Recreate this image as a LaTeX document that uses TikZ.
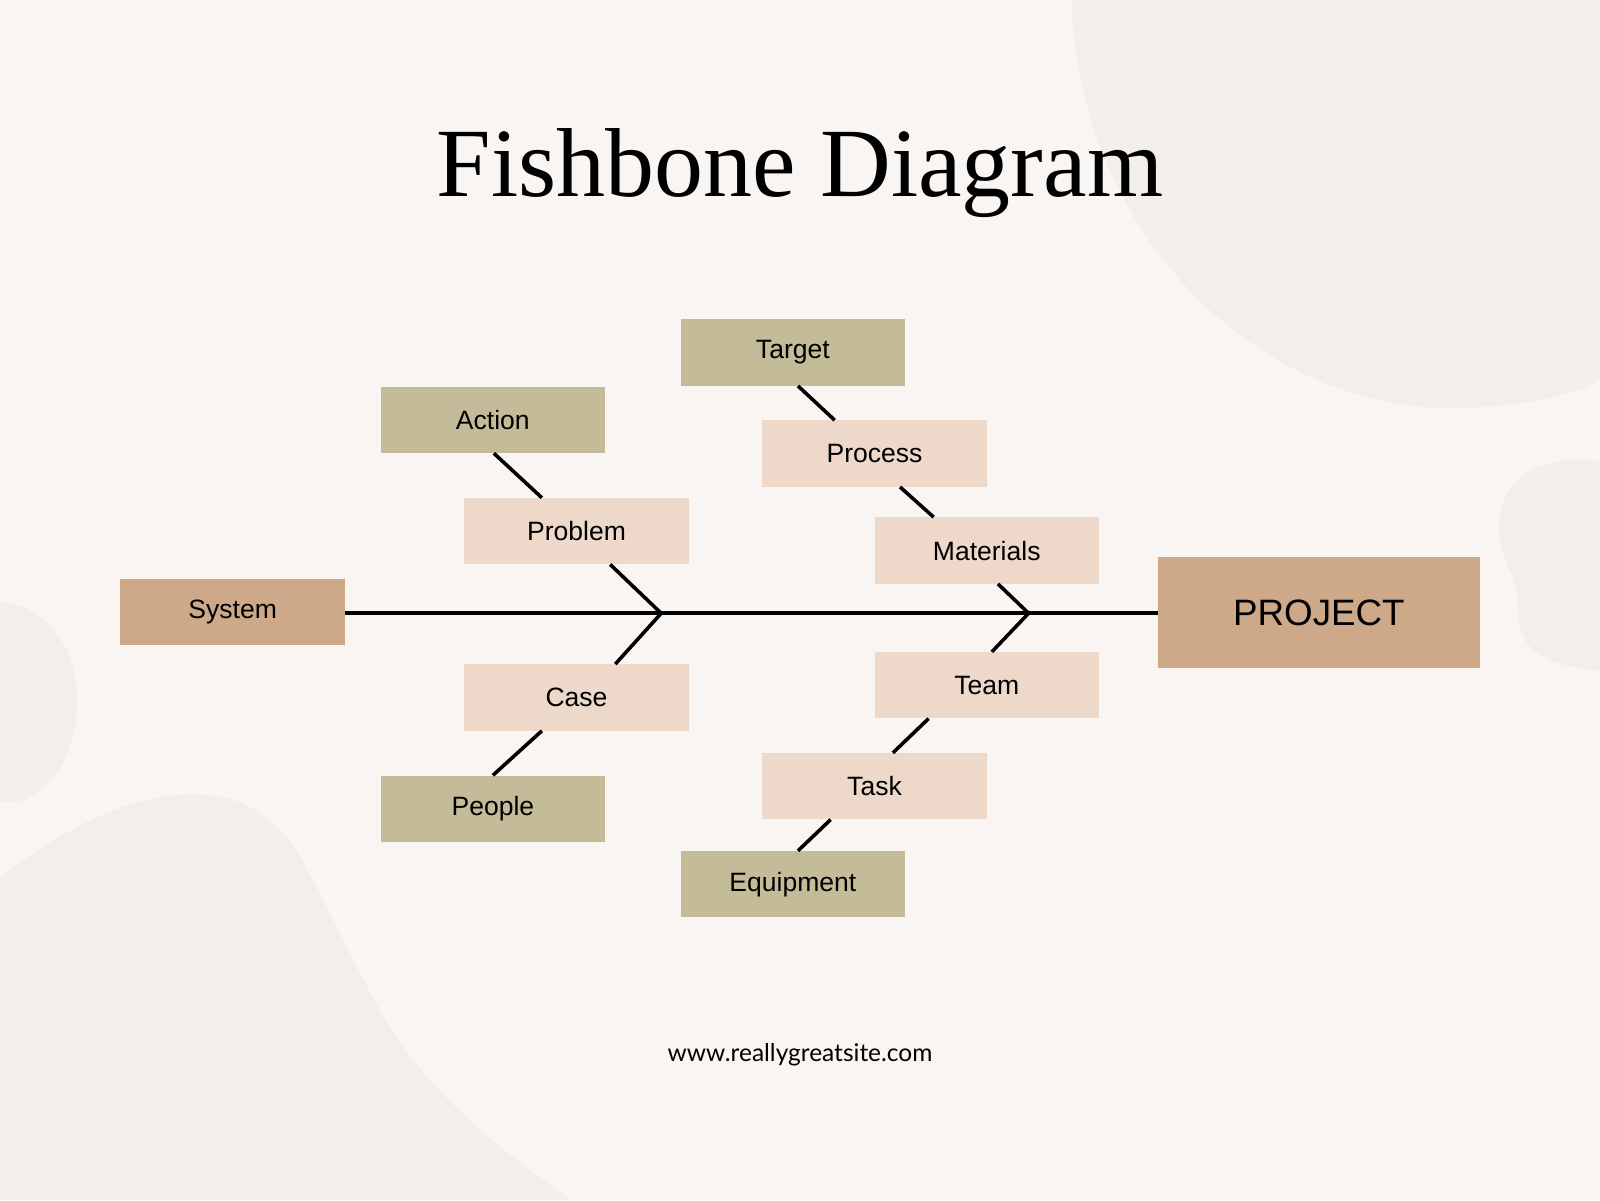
\documentclass[tikz,border=0pt]{standalone}
\usepackage{fontspec}
\setmainfont{Liberation Sans}
\newfontfamily\titlefont{Liberation Serif}
\newfontfamily\urlfont{Lato}
\definecolor{bg}{HTML}{F9F5F2}
\definecolor{blob}{HTML}{F2EFEA}
\definecolor{tan}{HTML}{CDA98A}
\definecolor{olive}{HTML}{C4BC98}
\definecolor{pinkb}{HTML}{EDD8C9}
\begin{document}
\begin{tikzpicture}[x=1pt,y=-1pt,
  box/.style={minimum width=220pt,minimum height=65pt,inner sep=0pt,font=\fontsize{26}{30}\selectfont},
  ob/.style={box,fill=olive},
  pb/.style={box,fill=pinkb},
  tb/.style={box,fill=tan},
  bone/.style={line width=3.5pt,black}]
\fill[bg] (0,0) rectangle (1568,1176);
\useasboundingbox (0,0) rectangle (1568,1176);
\fill[blob] (1050,0) .. controls (1060,250) and (1250,400) .. (1420,400) .. controls (1500,400) and (1568,380) .. (1568,370) -- (1568,0) -- cycle;
\fill[blob] (1568,452) .. controls (1480,440) and (1450,500) .. (1480,560) .. controls (1500,600) and (1460,645) .. (1568,658) -- cycle;
\fill[blob] (0,590) .. controls (100,600) and (95,760) .. (20,785) -- (0,785) -- cycle;
\fill[blob] (0,860) .. controls (100,780) and (240,730) .. (300,850) .. controls (380,1000) and (380,1050) .. (560,1176) -- (0,1176) -- cycle;

\node (title) at (784,170) {\titlefont\fontsize{96}{110}\selectfont Fishbone Diagram};
\node (url) at (784,1034) {\urlfont\fontsize{24}{28}\selectfont www.reallygreatsite.com};

\node[tb] (system) at (228,599.5) {System};
\node[tb,minimum width=315pt,minimum height=109pt,font=\fontsize{36}{40}\selectfont] (project) at (1292.5,600.5) {PROJECT};
\node[ob] (action) at (483,411.5) {Action};
\node[pb] (problem) at (565,520.5) {Problem};
\node[pb] (case) at (565,683.5) {Case};
\node[ob] (people) at (483,792.5) {People};
\node[ob] (target) at (777,345.5) {Target};
\node[pb] (process) at (857,444.5) {Process};
\node[pb] (materials) at (967,539.5) {Materials};
\node[pb] (team) at (967,671.5) {Team};
\node[pb] (task) at (857,770.5) {Task};
\node[ob] (equipment) at (777,866.5) {Equipment};

\coordinate (j1) at (648,601);
\coordinate (j2) at (1008,601);
\draw[bone] (system.east |- j1) -- (project.west |- j1);
\draw[bone] (j1) -- ([xshift=33pt]problem.south);
\draw[bone] ([xshift=-34pt]problem.north) -- ([xshift=1pt]action.south);
\draw[bone] (j1) -- ([xshift=38pt]case.north);
\draw[bone] ([xshift=-34pt]case.south) -- (people.north);
\draw[bone] (j2) -- ([xshift=11pt]materials.south);
\draw[bone] ([xshift=-52pt]materials.north) -- ([xshift=25pt]process.south);
\draw[bone] ([xshift=-39pt]process.north) -- ([xshift=5pt]target.south);
\draw[bone] (j2) -- ([xshift=5pt]team.north);
\draw[bone] ([xshift=-57pt]team.south) -- ([xshift=18pt]task.north);
\draw[bone] ([xshift=-43pt]task.south) -- ([xshift=5pt]equipment.north);
\end{tikzpicture}
\end{document}
